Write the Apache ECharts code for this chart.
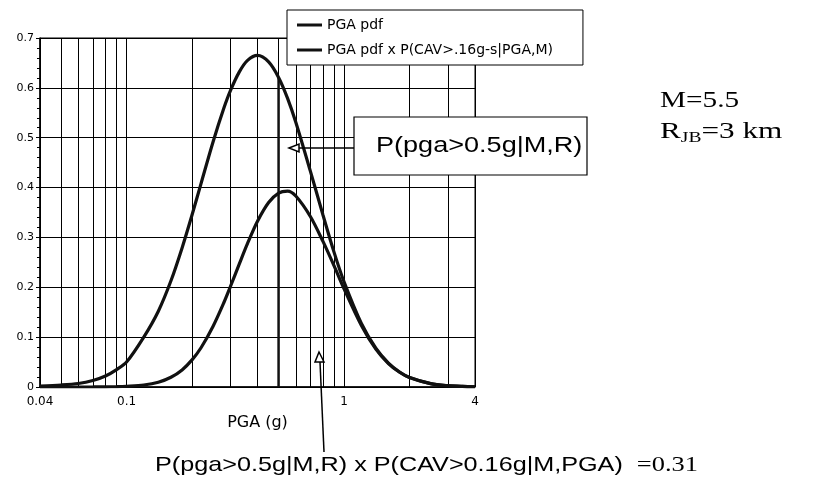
<!DOCTYPE html>
<html>
<head>
<meta charset="utf-8">
<script src="https://cdn.jsdelivr.net/npm/echarts@6/dist/echarts.min.js"></script>
<style>
  html, body { margin: 0; padding: 0; background: #fff; }
  #chart { width: 816px; height: 492px; }
</style>
</head>
<body>
<div id="chart"></div>
<script>
// PGA sample points (g) and the two curves
const pgaValues = [0.04, 0.05, 0.06, 0.07, 0.08, 0.09, 0.1, 0.12, 0.14, 0.16, 0.18, 0.2, 0.22, 0.25, 0.28, 0.3,
  0.33, 0.36, 0.4, 0.45, 0.5, 0.55, 0.6, 0.7, 0.8, 0.9, 1.0, 1.2, 1.4, 1.6, 1.8, 2.0, 2.5, 3.0, 3.5, 4.0]
const pgaPdf = [0.002, 0.004, 0.007, 0.013, 0.022, 0.035, 0.05, 0.1, 0.152, 0.213, 0.279, 0.345, 0.408, 0.492, 0.559, 0.594,
  0.632, 0.655, 0.665, 0.652, 0.621, 0.579, 0.531, 0.433, 0.345, 0.27, 0.211, 0.128, 0.078, 0.048, 0.03, 0.019, 0.0067, 0.0026, 0.0011, 0.0005]
const pgaPdfCav = [0, 0, 0, 0.0001, 0.0003, 0.0007, 0.0015, 0.004, 0.0095, 0.0195, 0.0343, 0.0544, 0.0787, 0.122, 0.169, 0.201,
  0.247, 0.288, 0.3325, 0.37, 0.389, 0.393, 0.383, 0.342, 0.292, 0.243, 0.197, 0.124, 0.076, 0.047, 0.0296, 0.019, 0.0067, 0.0026, 0.0011, 0.0005]

// vertical line at the 0.5g threshold
const thresholdPga = [0.5, 0.5]
const thresholdPdf = [0, 0.621]

// log grid lines and labelled ticks
const xGridTicks = [0.04, 0.05, 0.06, 0.07, 0.08, 0.09, 0.1, 0.2, 0.3, 0.4, 0.5, 0.6, 0.7, 0.8, 0.9, 1, 2, 3, 4]
const xLabelTicks = [0.04, 0.1, 1, 4]
const seriesNames = ['PGA pdf', 'PGA pdf x P(CAV>.16g-s|PGA,M)']

const chart = echarts.init(document.getElementById('chart'))

const toPairs = (xs, ys) => xs.map((x, i) => [x, ys[i]])

const curveStyle = { color: '#111', width: 3.2 }

const option = {
  animation: false,
  backgroundColor: '#fff',
  grid: { left: 40, right: 341, top: 38, bottom: 105, show: true, borderColor: '#000', borderWidth: 1 },
  legend: {
    data: seriesNames,
    orient: 'vertical',
    left: 287,
    top: 10,
    padding: [8, 30, 8, 10],
    itemGap: 11,
    itemWidth: 25,
    itemHeight: 3,
    icon: 'rect',
    backgroundColor: '#fff',
    borderColor: '#000',
    borderWidth: 1,
    textStyle: { fontFamily: 'DejaVu Sans', fontSize: 14, color: '#000' },
    z: 20
  },
  xAxis: {
    type: 'log',
    logBase: 10,
    min: 0.04,
    max: 4,
    name: 'PGA (g)',
    nameLocation: 'middle',
    nameGap: 28,
    nameTextStyle: { fontFamily: 'DejaVu Sans', fontSize: 16, color: '#000' },
    axisLine: { show: true, lineStyle: { color: '#000', width: 1.5 } },
    axisTick: { show: false, customValues: xGridTicks },
    axisLabel: {
      customValues: xLabelTicks,
      margin: 9,
      fontFamily: 'DejaVu Sans',
      fontSize: 12,
      color: '#000',
      formatter: v => String(Math.round(v * 100) / 100)
    },
    splitLine: { show: true, lineStyle: { color: '#000', width: 1 } }
  },
  yAxis: {
    type: 'value',
    min: 0,
    max: 0.7,
    interval: 0.1,
    axisLine: { show: true, lineStyle: { color: '#000', width: 1.5 } },
    axisTick: { show: true, length: 4, lineStyle: { color: '#000' } },
    minorTick: { show: true, splitNumber: 5, length: 3, lineStyle: { color: '#000' } },
    axisLabel: {
      margin: 6,
      fontFamily: 'DejaVu Sans',
      fontSize: 11,
      color: '#000',
      formatter: v => (v === 0 ? '0' : v.toFixed(1))
    },
    splitLine: { show: true, lineStyle: { color: '#000', width: 1.2 } }
  },
  series: [
    {
      name: seriesNames[0],
      type: 'line',
      smooth: 0.3,
      symbol: 'none',
      lineStyle: curveStyle,
      itemStyle: { color: '#111' },
      data: toPairs(pgaValues, pgaPdf),
      z: 5
    },
    {
      name: seriesNames[1],
      type: 'line',
      smooth: 0.3,
      symbol: 'none',
      lineStyle: curveStyle,
      itemStyle: { color: '#111' },
      data: toPairs(pgaValues, pgaPdfCav),
      z: 5
    },
    {
      name: 'threshold',
      type: 'line',
      symbol: 'none',
      lineStyle: { color: '#111', width: 2.5 },
      data: toPairs(thresholdPga, thresholdPdf),
      z: 4
    }
  ],
  graphic: [
    // annotation box for P(pga>0.5g|M,R)
    {
      type: 'rect', z: 100,
      shape: { x: 354, y: 117, width: 233, height: 58 },
      style: { fill: '#fff', stroke: '#000', lineWidth: 1.2 }
    },
    {
      type: 'text', z: 101, x: 376, y: 146, scaleX: 1.23,
      style: { text: 'P(pga>0.5g|M,R)', fontFamily: 'Liberation Sans', fontSize: 22, fill: '#000', verticalAlign: 'middle' }
    },
    // arrow from the box to the curve
    {
      type: 'polyline', z: 100,
      shape: { points: [[354, 148], [298, 148]] },
      style: { stroke: '#000', lineWidth: 1.5, fill: null }
    },
    {
      type: 'polygon', z: 101,
      shape: { points: [[289, 148], [299, 144], [299, 152]] },
      style: { stroke: '#000', lineWidth: 1.5, fill: '#fff' }
    },
    // arrow from the bottom text up to the area under the second curve
    {
      type: 'polyline', z: 100,
      shape: { points: [[324, 452], [320, 362]] },
      style: { stroke: '#000', lineWidth: 1.5, fill: null }
    },
    {
      type: 'polygon', z: 101,
      shape: { points: [[319, 352], [315, 362], [324, 362]] },
      style: { stroke: '#000', lineWidth: 1.5, fill: '#fff' }
    },
    {
      type: 'text', z: 101, x: 155, y: 465, scaleX: 1.2,
      style: {
        text: '{a|P(pga>0.5g|M,R) x P(CAV>0.16g|M,PGA)  }{b|=0.31}',
        verticalAlign: 'middle',
        rich: {
          a: { fontFamily: 'Liberation Sans', fontSize: 21, fill: '#000' },
          b: { fontFamily: 'Liberation Serif', fontSize: 22, fill: '#000' }
        }
      }
    },
    // scenario parameters
    {
      type: 'text', z: 101, x: 660, y: 101, scaleX: 1.22,
      style: { text: 'M=5.5', fontFamily: 'Liberation Serif', fontSize: 24, fill: '#000', verticalAlign: 'middle' }
    },
    {
      type: 'text', z: 101, x: 660, y: 132, scaleX: 1.3,
      style: {
        text: '{r|R}{s|JB}{r|=3 km}',
        verticalAlign: 'middle',
        rich: {
          r: { fontFamily: 'Liberation Serif', fontSize: 24, lineHeight: 28, fill: '#000' },
          s: { fontFamily: 'Liberation Serif', fontSize: 15, lineHeight: 15, verticalAlign: 'bottom', fill: '#000' }
        }
      }
    }
  ]
}

chart.setOption(option)
</script>
</body>
</html>
